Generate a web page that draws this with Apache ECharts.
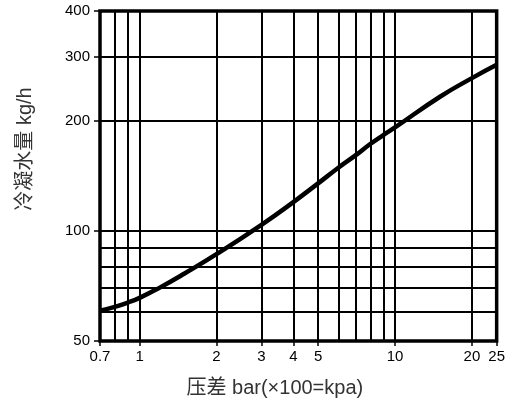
<!DOCTYPE html>
<html><head><meta charset="utf-8">
<script src="https://cdn.jsdelivr.net/npm/echarts@6/dist/echarts.min.js"></script>
<style>html,body{margin:0;padding:0;background:#fff}#c{width:508px;height:403px}</style>
</head><body><div id="c"></div>
<script>
// Pressure difference (bar) and condensate capacity (kg/h)
const pressure   = [0.7, 0.8, 0.9, 1, 1.2, 1.5, 2, 3, 4, 5, 6, 7, 8, 9, 10, 15, 20, 25];
const condensate = [60.5, 62, 63.7, 65.6, 70, 76.5, 86.4, 104, 120, 135, 149, 161, 173, 183, 192, 233, 262, 285];
const xTickLabels = [0.7, 1, 2, 3, 4, 5, 10, 20, 25];
const yTickLabels = [50, 100, 200, 300, 400];
const xGridValues = [0.8, 0.9, 1, 2, 3, 4, 5, 6, 7, 8, 9, 10, 20];
const yGridValues = [60, 70, 80, 90, 100, 200, 300];

const fmt = v => String(parseFloat(Number(v).toPrecision(3)));
const latin = '"Liberation Sans", Arial, "Noto Sans CJK SC", sans-serif';

const gridLines = xGridValues.map(v => ({xAxis: v})).concat(yGridValues.map(v => ({yAxis: v})));

const chart = echarts.init(document.getElementById('c'), null, {renderer: 'canvas'});
chart.setOption({
  animation: false,
  backgroundColor: '#fff',
  grid: {left: 100, right: 9, top: 11, bottom: 60.5, show: true, borderColor: '#000', borderWidth: 3.5, backgroundColor: 'transparent', z: 5},
  xAxis: {
    type: 'log', logBase: 10, min: 0.7, max: 25,
    axisLine: {show: false},
    axisTick: {show: true, customValues: xTickLabels, length: 5, lineStyle: {color: '#000', width: 1.5}},
    axisLabel: {customValues: xTickLabels, formatter: fmt, color: '#000', fontSize: 15, fontFamily: latin, margin: 8},
    splitLine: {show: false},
    minorTick: {show: false}, minorSplitLine: {show: false},
    name: '压差 bar(×100=kpa)', nameLocation: 'middle', nameGap: 37,
    nameTextStyle: {color: '#333', fontSize: 20, fontFamily: latin, padding: [0, 47, 0, 0]}
  },
  yAxis: {
    type: 'log', logBase: 10, min: 50, max: 400,
    axisLine: {show: false},
    axisTick: {show: true, customValues: yTickLabels, length: 6, lineStyle: {color: '#000', width: 1.5}},
    axisLabel: {customValues: yTickLabels, formatter: fmt, color: '#000', fontSize: 15, fontFamily: latin, margin: 10},
    splitLine: {show: false},
    minorTick: {show: false}, minorSplitLine: {show: false},
    name: '冷凝水量 kg/h', nameLocation: 'middle', nameGap: 65,
    nameTextStyle: {color: '#333', fontSize: 20, fontFamily: latin, padding: [0, 0, 0, 54]}
  },
  series: [
    {
      type: 'line', data: [], z: 1, silent: true,
      markLine: {
        silent: true, symbol: ['none', 'none'], animation: false,
        label: {show: false},
        lineStyle: {color: '#000', width: 2, type: 'solid'},
        emphasis: {disabled: true},
        data: gridLines
      }
    },
    {
      type: 'line', z: 3, smooth: 0.5, symbol: 'none',
      lineStyle: {color: '#000', width: 4.5},
      data: pressure.map((p, i) => [p, condensate[i]])
    }
  ]
});
</script>
</body></html>
